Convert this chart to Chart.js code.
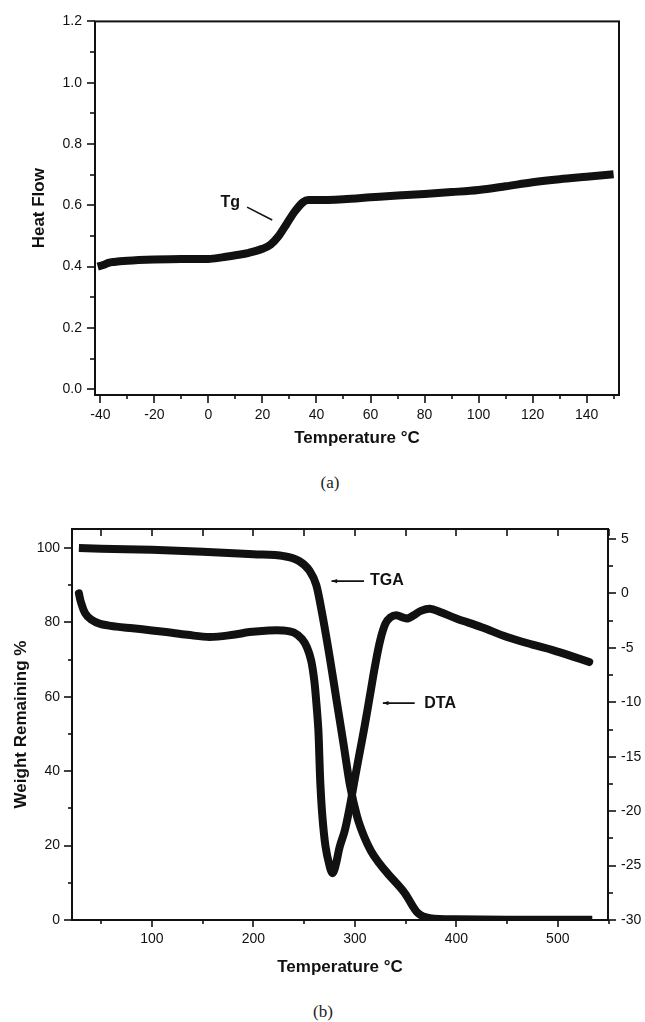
<!DOCTYPE html>
<html>
<head>
<meta charset="utf-8">
<script src="https://cdn.jsdelivr.net/npm/chart.js@4.4.0/dist/chart.umd.min.js"></script>
<style>
  body { margin: 0; background: #fff; width: 645px; height: 1022px; position: relative; overflow: hidden; }
  canvas { position: absolute; left: 0; }
  .cap { position: absolute; font-family: "Liberation Serif", "DejaVu Serif", serif; font-size: 17px; color: #222; transform: translate(-50%, -50%); }
</style>
</head>
<body>
<canvas id="dsc" width="645" height="460" style="top:0px"></canvas>
<div class="cap" style="left:330px; top:483px">(a)</div>
<canvas id="tga" width="645" height="490" style="top:500px"></canvas>
<div class="cap" style="left:323px; top:1012px">(b)</div>
<script>
// (a) DSC heat flow
const heatT    = [-41, -39, -37, -35, -30, -20, -10, 0, 5, 10, 15, 20, 23, 26, 29, 32, 35, 37, 40, 50, 60, 70, 80, 90, 100, 110, 120, 130, 140, 150];
const heatFlow = [0.400, 0.405, 0.412, 0.415, 0.419, 0.423, 0.425, 0.425, 0.430, 0.437, 0.445, 0.458, 0.472, 0.500, 0.540, 0.580, 0.610, 0.617, 0.617, 0.620, 0.626, 0.632, 0.637, 0.643, 0.650, 0.662, 0.675, 0.685, 0.693, 0.701];
const heatXTicks = [-40, -20, 0, 20, 40, 60, 80, 100, 120, 140];
const heatXMinor = [-30, -10, 10, 30, 50, 70, 90, 110, 130, 150];
const heatYTicks = [0.0, 0.2, 0.4, 0.6, 0.8, 1.0, 1.2];
const heatYMinor = [0.1, 0.3, 0.5, 0.7, 0.9, 1.1];

// (b) TGA / DTA
const tgaT      = [28, 50, 100, 150, 200, 230, 245, 255, 262, 268, 275, 282, 289, 295, 302, 309, 316, 324, 332, 349, 362, 374, 400, 450, 500, 534];
const tgaWeight = [100, 99.8, 99.5, 99, 98.3, 97.8, 96.5, 94, 90, 82, 71, 59, 47, 36.5, 28, 22.5, 18.5, 15.3, 12.6, 7.3, 1.9, 0.5, 0.2, 0.1, 0.1, 0.1];
const dtaT   = [28, 30, 34, 40, 49, 65, 81, 100, 114, 135, 157, 180, 196, 215, 229, 240, 248, 253, 257, 260, 262, 264, 265, 266, 268, 271, 275, 278, 281, 285, 290, 295, 300, 305, 310, 315, 320, 325, 330, 335, 341, 347, 352, 358, 365, 374, 384, 400, 425, 450, 475, 495, 515, 531];
const dtaVal = [0, -0.8, -1.8, -2.4, -2.8, -3.05, -3.2, -3.4, -3.55, -3.8, -4.0, -3.8, -3.55, -3.4, -3.4, -3.6, -4.2, -5.0, -6.2, -8.0, -10, -12.5, -15, -17.5, -20.5, -23.2, -25, -25.7, -25, -23.3, -21.8, -19.6, -17, -14.5, -12, -9.3, -6.6, -4.3, -2.8, -2.2, -2.0, -2.2, -2.3, -2.0, -1.6, -1.4, -1.7, -2.3, -3.1, -4.0, -4.7, -5.2, -5.8, -6.3];
const tgaXTicks = [100, 200, 300, 400, 500];
const tgaXMinor = [50, 150, 250, 350, 450, 550];
const tgaXTop   = [50, 100, 150, 200, 250, 300, 350, 400, 450, 500, 550];
const weightTicks = [0, 20, 40, 60, 80, 100];
const weightMinor = [10, 30, 50, 70, 90];
const dtaTicks = [-30, -25, -20, -15, -10, -5, 0, 5];
const dtaMinor = [-27.5, -22.5, -17.5, -12.5, -7.5, -2.5, 2.5];

const ink = '#111';
const tickFont = { family: '"Liberation Sans", Arial, sans-serif', size: 14 };
const titleFont = { family: '"Liberation Sans", Arial, sans-serif', size: 17, weight: 'bold' };

function pairs(xs, ys) {
    return xs.map((x, i) => ({ x: x, y: ys[i] }));
}

// frame, tick marks and arrow labels drawn through the chart scales
const decorations = {
    id: 'decorations',
    afterDraw(chart, args, opts) {
        const ctx = chart.ctx;
        const a = chart.chartArea;
        ctx.save();
        ctx.strokeStyle = ink;
        ctx.lineWidth = 2;
        ctx.strokeRect(a.left, a.top, a.right - a.left, a.bottom - a.top);
        ctx.lineWidth = 1.6;
        (opts.marks || []).forEach(m => {
            const scale = chart.scales[m.axis];
            m.values.forEach(v => {
                const p = Math.round(scale.getPixelForValue(v));
                ctx.beginPath();
                if (m.side === 'bottom') { ctx.moveTo(p, a.bottom); ctx.lineTo(p, a.bottom + m.len); }
                if (m.side === 'top') { ctx.moveTo(p, a.top); ctx.lineTo(p, a.top + m.len); }
                if (m.side === 'left') { ctx.moveTo(a.left, p); ctx.lineTo(a.left - m.len, p); }
                if (m.side === 'right') { ctx.moveTo(a.right, p); ctx.lineTo(a.right + m.len, p); }
                ctx.stroke();
            });
        });
        (opts.notes || []).forEach(n => {
            const xs = chart.scales.x, ys = chart.scales[n.yAxis];
            ctx.fillStyle = ink;
            ctx.font = 'bold 16px "Liberation Sans", Arial, sans-serif';
            ctx.textAlign = 'center';
            ctx.textBaseline = 'middle';
            ctx.fillText(n.text, xs.getPixelForValue(n.x), ys.getPixelForValue(n.y));
            const x1 = xs.getPixelForValue(n.from[0]), y1 = ys.getPixelForValue(n.from[1]);
            const x2 = xs.getPixelForValue(n.to[0]), y2 = ys.getPixelForValue(n.to[1]);
            ctx.lineWidth = 1.6;
            ctx.beginPath();
            ctx.moveTo(x1, y1);
            ctx.lineTo(x2, y2);
            ctx.stroke();
            if (n.head) {
                const ang = Math.atan2(y2 - y1, x2 - x1);
                ctx.beginPath();
                ctx.moveTo(x2, y2);
                ctx.lineTo(x2 - 6 * Math.cos(ang - 0.35), y2 - 6 * Math.sin(ang - 0.35));
                ctx.lineTo(x2 - 6 * Math.cos(ang + 0.35), y2 - 6 * Math.sin(ang + 0.35));
                ctx.closePath();
                ctx.fill();
            }
        });
        ctx.restore();
    }
};

function setTicks(list) {
    return function (scale) { scale.ticks = list.map(v => ({ value: v })); };
}
function fixWidth(w) { return function (scale) { scale.width = w; }; }
function fixHeight(h) { return function (scale) { scale.height = h; }; }

const noGrid = { display: false, drawTicks: false };

new Chart(document.getElementById('dsc'), {
    type: 'line',
    data: {
        datasets: [{
            data: pairs(heatT, heatFlow),
            borderColor: ink,
            borderWidth: 8,
            pointRadius: 0,
            cubicInterpolationMode: 'monotone',
            borderCapStyle: 'butt'
        }]
    },
    options: {
        responsive: false,
        animation: false,
        events: [],
        layout: { padding: { top: 17, right: 26, left: 0, bottom: 0 } },
        plugins: {
            legend: { display: false },
            tooltip: { enabled: false },
            decorations: {
                marks: [
                    { axis: 'x', side: 'bottom', values: heatXTicks, len: 8 },
                    { axis: 'x', side: 'bottom', values: heatXMinor, len: 4 },
                    { axis: 'y', side: 'left', values: heatYTicks, len: 8 },
                    { axis: 'y', side: 'left', values: heatYMinor, len: 5 }
                ],
                notes: [
                    { text: 'Tg', x: 8.1, y: 0.61, yAxis: 'y', from: [14.3, 0.594], to: [23.6, 0.552], head: false }
                ]
            }
        },
        scales: {
            x: {
                type: 'linear', min: -42, max: 152,
                grid: noGrid, border: { display: false },
                afterBuildTicks: setTicks(heatXTicks),
                afterFit: fixHeight(65),
                ticks: { color: ink, font: tickFont, padding: 12, maxRotation: 0 },
                title: { display: true, text: 'Temperature °C', color: ink, font: titleFont, padding: { top: 0, bottom: 11 } }
            },
            y: {
                type: 'linear', min: -0.019, max: 1.2,
                grid: noGrid, border: { display: false },
                afterBuildTicks: setTicks(heatYTicks),
                afterFit: fixWidth(95),
                ticks: { color: ink, font: tickFont, padding: 13, callback: v => v.toFixed(1) },
                title: { display: true, text: 'Heat Flow', color: ink, font: titleFont, padding: { top: 29, bottom: 0 } }
            }
        }
    },
    plugins: [decorations]
});

new Chart(document.getElementById('tga'), {
    type: 'line',
    data: {
        datasets: [{
            label: 'TGA',
            data: pairs(tgaT, tgaWeight),
            yAxisID: 'y',
            borderColor: ink,
            borderWidth: 8,
            pointRadius: 0,
            cubicInterpolationMode: 'monotone',
            borderCapStyle: 'butt'
        }, {
            label: 'DTA',
            data: pairs(dtaT, dtaVal),
            yAxisID: 'y2',
            borderColor: ink,
            borderWidth: 8,
            pointRadius: 0,
            tension: 0.35,
            borderCapStyle: 'round',
            borderJoinStyle: 'round'
        }]
    },
    options: {
        responsive: false,
        animation: false,
        events: [],
        layout: { padding: { top: 29, right: 0, left: 0, bottom: 0 } },
        plugins: {
            legend: { display: false },
            tooltip: { enabled: false },
            decorations: {
                marks: [
                    { axis: 'x', side: 'bottom', values: tgaXTicks, len: 7 },
                    { axis: 'x', side: 'bottom', values: tgaXMinor, len: 4 },
                    { axis: 'x', side: 'top', values: tgaXTop, len: 7 },
                    { axis: 'y', side: 'left', values: weightTicks, len: 8 },
                    { axis: 'y', side: 'left', values: weightMinor, len: 4 },
                    { axis: 'y2', side: 'right', values: dtaTicks, len: 8 },
                    { axis: 'y2', side: 'right', values: dtaMinor, len: 5 }
                ],
                notes: [
                    { text: 'TGA', x: 331.5, y: 91.1, yAxis: 'y', from: [309, 91.1], to: [277, 91.1], head: true },
                    { text: 'DTA', x: 384, y: 58.3, yAxis: 'y', from: [359, 58.3], to: [327.6, 58.3], head: true }
                ]
            }
        },
        scales: {
            x: {
                type: 'linear', min: 21.2, max: 549.5,
                grid: noGrid, border: { display: false },
                afterBuildTicks: setTicks(tgaXTicks),
                afterFit: fixHeight(70),
                ticks: { color: ink, font: tickFont, padding: 11, maxRotation: 0 },
                title: { display: true, text: 'Temperature °C', color: ink, font: titleFont, padding: { top: 0, bottom: 12 } }
            },
            y: {
                type: 'linear', position: 'left', min: 0, max: 105.1,
                grid: noGrid, border: { display: false },
                afterBuildTicks: setTicks(weightTicks),
                afterFit: fixWidth(72),
                ticks: { color: ink, font: tickFont, padding: 12 },
                title: { display: true, text: 'Weight Remaining %', color: ink, font: titleFont, padding: { top: 11, bottom: 0 } }
            },
            y2: {
                type: 'linear', position: 'right', min: -30, max: 5.92,
                grid: noGrid, border: { display: false },
                afterBuildTicks: setTicks(dtaTicks),
                afterFit: fixWidth(37),
                ticks: { color: ink, font: tickFont, padding: 13 }
            }
        }
    },
    plugins: [decorations]
});
</script>
</body>
</html>
